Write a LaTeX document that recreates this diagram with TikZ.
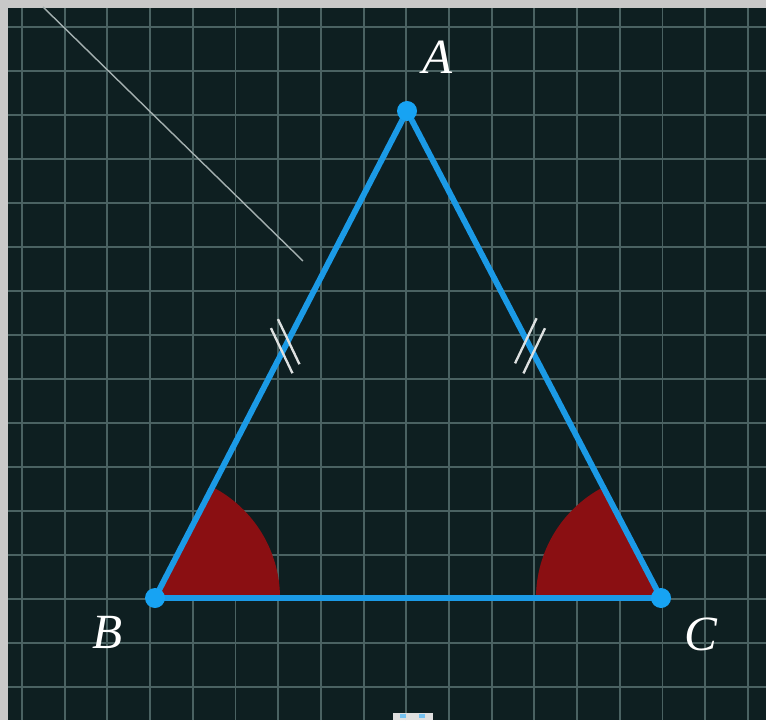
\documentclass[tikz,border=0pt]{standalone}
\usepackage{fontspec}
\setmainfont{Liberation Serif}
\usetikzlibrary{positioning}
\definecolor{frame}{HTML}{C8C8C8}
\definecolor{board}{HTML}{0E1F21}
\definecolor{gridcol}{HTML}{4A6262}
\definecolor{side}{HTML}{1B9AE6}
\definecolor{dot}{HTML}{17A3F3}
\definecolor{sector}{HTML}{8A0F12}
\definecolor{tickcol}{HTML}{DDE0E0}

\begin{document}
\begin{tikzpicture}[
    x=0.03cm, y=0.03cm,
    gridline/.style={draw=gridcol, line width=1.6pt},
    edge/.style={draw=side, line width=5pt},
    vertex/.style={circle, fill=dot, minimum size=0.6cm, inner sep=0pt},
    angfill/.style={fill=sector},
    hashmark/.style={draw=tickcol, line width=2pt},
    ptlabel/.style={text=white, font=\fontsize{42}{50}\selectfont\itshape}]
    % background and grid
    \fill[frame] (0,0) rectangle (766,720);
    \fill[board] (8,0) rectangle (766,712);
    \useasboundingbox (0,0) rectangle (766,720);
    \foreach \k in {0,...,17}
        \draw[gridline] ({22+42.7*\k},0) -- ({22+42.7*\k},712);
    \foreach \k in {0,...,15}
        \draw[gridline] (8,{693-44*\k}) -- (766,{693-44*\k});
    % stray segment
    \coordinate (s1) at (43,713);
    \coordinate (s2) at (303,459);
    \draw[draw=gridcol!50!white, line width=1.2pt] (s1) -- (s2);
    % vertices
    \coordinate (A) at (407,609);
    \coordinate (B) at (155,122);
    \coordinate (C) at (661,122);
    % base angles
    \fill[angfill] (B) -- ++(0:125) arc[start angle=0, end angle=62.6, radius=125] -- cycle;
    \fill[angfill] (C) -- ++(180:125) arc[start angle=180, end angle=117.4, radius=125] -- cycle;
    % sides
    \draw[edge] (A) -- (B);
    \draw[edge] (A) -- (C);
    \draw[edge] (B) -- (C);
    % equal-side marks
    \draw[hashmark] (281.7,369.3) ++(115.5:25) -- ++(-64.5:50);
    \draw[hashmark] (288.7,378.3) ++(115.5:25) -- ++(-64.5:50);
    \draw[hashmark] (525.8,379.2) ++(64.5:25) -- ++(244.5:50);
    \draw[hashmark] (534.2,369.2) ++(64.5:25) -- ++(244.5:50);
    \node[vertex] (dA) at (A) {};
    \node[vertex] (dB) at (B) {};
    \node[vertex] (dC) at (C) {};
    % labels
    \node[ptlabel] (lA) at (438,663) {A};
    \node[ptlabel] (lB) at (108,88) {B};
    \node[ptlabel] (lC) at (701,86) {C};
    % icon at bottom edge
    \fill[gray!25] (393,0) rectangle (433,7);
    \fill[side!60] (400,2) rectangle (406,6);
    \fill[side!60] (419,2) rectangle (425,6);
\end{tikzpicture}
\end{document}
